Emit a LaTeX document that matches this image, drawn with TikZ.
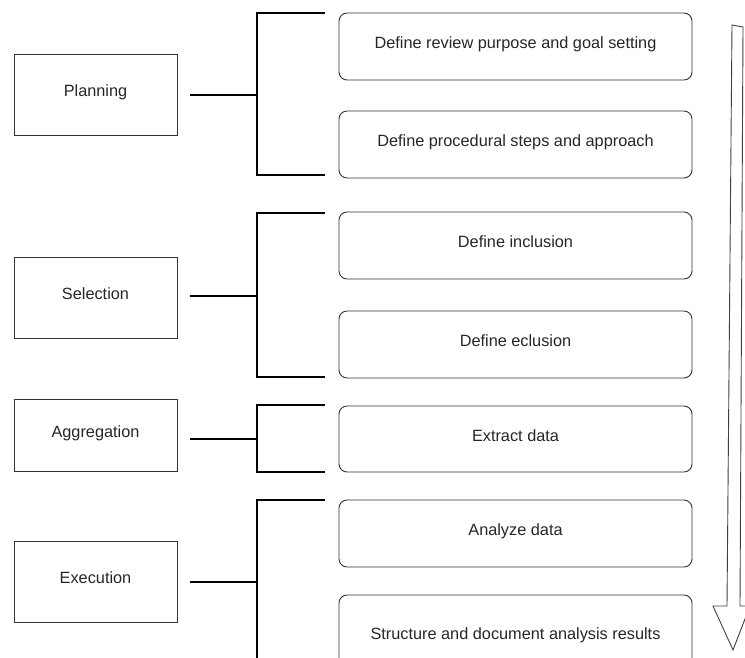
\documentclass[tikz,border=0pt]{standalone}
\usepackage{fontspec}
\setmainfont{Liberation Sans}
\usetikzlibrary{calc}
\begin{document}
\begin{tikzpicture}[x=1pt,y=-1pt,
  boxtext/.style={font=\fontsize{16.3}{19}\selectfont,text=black!85,text height=12pt,text depth=8pt},
  phasebox/.style={draw=black!80,line width=0.9pt,rectangle,minimum width=163pt,inner sep=0pt,boxtext},
  stepbox/.style={draw=black!80,line width=0.9pt,rectangle,rounded corners=8pt,minimum width=353pt,
    minimum height=67pt,inner sep=0pt,boxtext},
  brack/.style={draw=black,line width=2pt},
  bigarrow/.style={draw=black!75,line width=0.9pt,fill=white}]
\useasboundingbox (0,0) rectangle (745,657);
\clip (0,0) rectangle (745,657);
% phases
\node[phasebox,minimum height=81pt] (plan) at (95.5,94.5) {Planning};
\node[phasebox,minimum height=81pt] (sel) at (95.5,297.5) {Selection};
\node[phasebox,minimum height=72pt] (agg) at (95.5,435) {Aggregation};
\node[phasebox,minimum height=81pt] (exe) at (95.5,581.5) {Execution};
% steps
\node[stepbox] (s1) at (515.5,46.5) {Define review purpose and goal setting};
\node[stepbox] (s2) at (515.5,144.5) {Define procedural steps and approach};
\node[stepbox] (s3) at (515.5,245.5) {Define inclusion};
\node[stepbox] (s4) at (515.5,344.5) {Define eclusion};
\node[stepbox,minimum height=66pt] (s5) at (515.5,439) {Extract data};
\node[stepbox] (s6) at (515.5,533.5) {Analyze data};
\node[stepbox,minimum height=84pt] (s7) at (515.5,637) {Structure and document analysis results};
% brackets
\coordinate (bx) at (257,0);
\coordinate (ex) at (325,0);
\coordinate (b1t) at (0,13);   \coordinate (b1b) at (0,175);
\coordinate (b2t) at (0,213);  \coordinate (b2b) at (0,377);
\coordinate (b3t) at (0,405);  \coordinate (b3b) at (0,472);
\coordinate (b4t) at (0,500);  \coordinate (b4b) at (0,668);
\draw[brack] ($(plan.east)+(13,0)$) -- (bx |- plan.east);
\draw[brack] (ex |- b1t) -- (bx |- b1t) -- (bx |- b1b) -- (ex |- b1b);
\draw[brack] ($(sel.east)+(13,-1.5)$) -- ($(bx |- sel.east)+(0,-1.5)$);
\draw[brack] (ex |- b2t) -- (bx |- b2t) -- (bx |- b2b) -- (ex |- b2b);
\draw[brack] ($(agg.east)+(13,4)$) -- ($(bx |- agg.east)+(0,4)$);
\draw[brack] (ex |- b3t) -- (bx |- b3t) -- (bx |- b3b) -- (ex |- b3b);
\draw[brack] ($(exe.east)+(13,0)$) -- (bx |- exe.east);
\draw[brack] (ex |- b4t) -- (bx |- b4t) -- (bx |- b4b) -- (ex |- b4b);
% big arrow
\draw[bigarrow] (732,25) -- (743,27) -- (740,606) -- (750,606) -- (733,650) -- (713,606) -- (727,606) -- cycle;
\end{tikzpicture}
\end{document}
